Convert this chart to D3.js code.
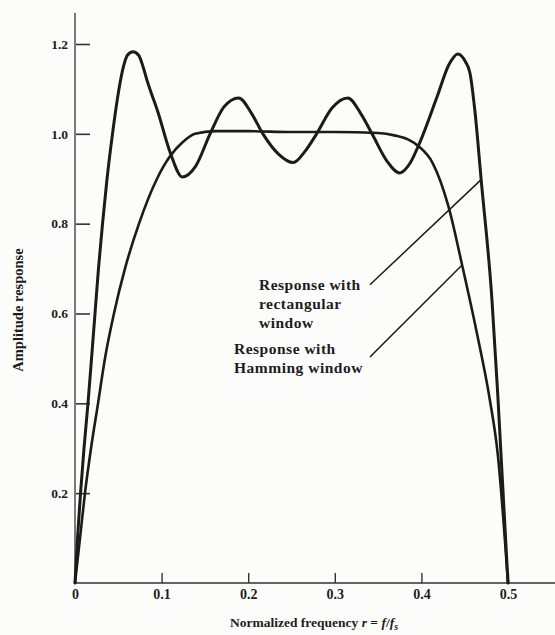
<!DOCTYPE html>
<html>
<head>
<meta charset="utf-8">
<script src="https://cdn.jsdelivr.net/npm/d3@7"></script>
<style>
  html, body { margin: 0; padding: 0; background: #fcfcfb; }
  svg { display: block; }
  text { font-family: "Liberation Serif", "DejaVu Serif", serif; fill: #1d1d1d; }
</style>
</head>
<body>
<svg id="chart" width="555" height="635"></svg>
<script>
// ---- data ----
const xTicks = [0, 0.1, 0.2, 0.3, 0.4, 0.5];
const xTickLabels = ["0", "0.1", "0.2", "0.3", "0.4", "0.5"];
const yTicks = [0.2, 0.4, 0.6, 0.8, 1.0, 1.2];
const yTickLabels = ["0.2", "0.4", "0.6", "0.8", "1.0", "1.2"];

// Response with rectangular window: normalized frequency r, amplitude
const rectR = [0, 0.0029, 0.0064, 0.0104, 0.0150, 0.0191, 0.0231, 0.0271, 0.0318, 0.0370, 0.0433, 0.0508, 0.0560, 0.0605, 0.067, 0.0735, 0.0785, 0.083, 0.096, 0.110, 0.124, 0.139, 0.156, 0.172, 0.189, 0.204, 0.217, 0.235, 0.252, 0.266, 0.279, 0.297, 0.315, 0.330, 0.343, 0.360, 0.375, 0.387, 0.398, 0.418, 0.432, 0.442, 0.451, 0.456, 0.462, 0.469, 0.4815, 0.4885, 0.500];
const rectA = [0, 0.10, 0.20, 0.30, 0.40, 0.50, 0.60, 0.70, 0.80, 0.90, 1.00, 1.10, 1.15, 1.175, 1.183, 1.175, 1.15, 1.12, 1.047, 0.958, 0.904, 0.927, 1.00, 1.06, 1.080, 1.045, 1.00, 0.955, 0.936, 0.962, 1.00, 1.058, 1.080, 1.045, 1.00, 0.94, 0.913, 0.935, 0.98, 1.082, 1.155, 1.178, 1.16, 1.136, 1.047, 0.898, 0.63, 0.408, 0];

// Response with Hamming window
const hamR = [0, 0.0058, 0.0115, 0.0185, 0.0266, 0.0346, 0.0450, 0.0577, 0.0739, 0.0947, 0.1097, 0.1236, 0.1386, 0.1617, 0.200, 0.250, 0.300, 0.350, 0.370, 0.385, 0.397, 0.413, 0.431, 0.447, 0.464, 0.479, 0.488, 0.500];
const hamA = [0, 0.10, 0.20, 0.30, 0.40, 0.50, 0.60, 0.70, 0.80, 0.90, 0.95, 0.98, 1.00, 1.006, 1.006, 1.004, 1.004, 1.002, 0.996, 0.987, 0.972, 0.935, 0.84, 0.708, 0.557, 0.408, 0.29, 0];

// annotation labels (anchor of leader line in data units, and target on curve)
const rectLabel = { lines: ["Response with", "rectangular", "window"], from: [0.3406, 0.664], to: [0.469, 0.898] };
const hamLabel = { lines: ["Response with", "Hamming window"], from: [0.3406, 0.503], to: [0.447, 0.708] };

// ---- drawing ----
const svg = d3.select("#chart");
const x = d3.scaleLinear().domain([0, 0.5]).range([75, 508]);
const y = d3.scaleLinear().domain([0, 1.2]).range([583, 44]);
const ink = "#1b1b1b";

// axis lines
svg.append("line").attr("x1", x(0)).attr("x2", 555).attr("y1", y(0)).attr("y2", y(0))
  .attr("stroke", "#333").attr("stroke-width", 1.6);
svg.append("line").attr("x1", x(0)).attr("x2", x(0)).attr("y1", y(0)).attr("y2", 13)
  .attr("stroke", "#444").attr("stroke-width", 1.4);

const xAxis = d3.axisBottom(x).tickValues(xTicks)
  .tickFormat((d, i) => xTickLabels[i]).tickSizeInner(-10).tickSizeOuter(0).tickPadding(6);
const gx = svg.append("g").attr("transform", `translate(0,${y(0)})`).call(xAxis);
gx.select(".domain").remove();
gx.selectAll(".tick line").attr("stroke", "#333").attr("stroke-width", 1.4);
gx.selectAll(".tick text").attr("font-size", 14).attr("font-weight", "bold").attr("fill", "#222")
  .attr("font-family", "Liberation Serif, serif");
gx.selectAll(".tick").filter(d => d === 0).select("line").remove();

const yAxis = d3.axisLeft(y).tickValues(yTicks)
  .tickFormat((d, i) => yTickLabels[i]).tickSizeInner(-15).tickSizeOuter(0).tickPadding(7);
const gy = svg.append("g").attr("transform", `translate(${x(0)},0)`).call(yAxis);
gy.select(".domain").remove();
gy.selectAll(".tick line").attr("stroke", "#333").attr("stroke-width", 1.6).attr("x1", 1);
gy.selectAll(".tick text").attr("font-size", 13.5).attr("font-weight", "bold").attr("fill", "#222")
  .attr("font-family", "Liberation Serif, serif");

// curves
const line = d3.line().x(d => x(d[0])).y(d => y(d[1])).curve(d3.curveMonotoneX);
const rectPts = rectR.map((r, i) => [r, rectA[i]]);
const hamPts = hamR.map((r, i) => [r, hamA[i]]);
svg.append("path").attr("d", line(hamPts)).attr("fill", "none").attr("stroke", ink)
  .attr("stroke-width", 2.6).attr("stroke-linejoin", "round").attr("stroke-linecap", "round");
svg.append("path").attr("d", line(rectPts)).attr("fill", "none").attr("stroke", ink)
  .attr("stroke-width", 3).attr("stroke-linejoin", "round").attr("stroke-linecap", "round");

// annotations
function annotate(lab, textX, firstY, lineH) {
  svg.append("line")
    .attr("x1", x(lab.from[0])).attr("y1", y(lab.from[1]))
    .attr("x2", x(lab.to[0])).attr("y2", y(lab.to[1]))
    .attr("stroke", ink).attr("stroke-width", 1.5);
  const t = svg.append("text").attr("font-size", 15.5).attr("font-weight", "bold")
    .attr("letter-spacing", 0.5);
  lab.lines.forEach((s, i) => {
    t.append("tspan").attr("x", textX).attr("y", firstY + i * lineH).text(s);
  });
}
annotate(rectLabel, 259, 290, 19);
annotate(hamLabel, 234, 354, 19);

// axis titles
svg.append("text").attr("transform", "translate(23,310) rotate(-90)")
  .attr("text-anchor", "middle").attr("font-size", 14.5).attr("font-weight", "bold")
  .text("Amplitude response");

const xt = svg.append("text").attr("x", 314).attr("y", 627).attr("text-anchor", "middle")
  .attr("font-size", 13.5).attr("font-weight", "bold");
xt.append("tspan").text("Normalized frequency ");
xt.append("tspan").attr("font-style", "italic").text("r");
xt.append("tspan").text(" = ");
xt.append("tspan").attr("font-style", "italic").text("f");
xt.append("tspan").text("/");
xt.append("tspan").attr("font-style", "italic").text("f");
xt.append("tspan").attr("font-style", "italic").attr("font-size", 10).attr("dy", 3).text("s");
</script>
</body>
</html>
